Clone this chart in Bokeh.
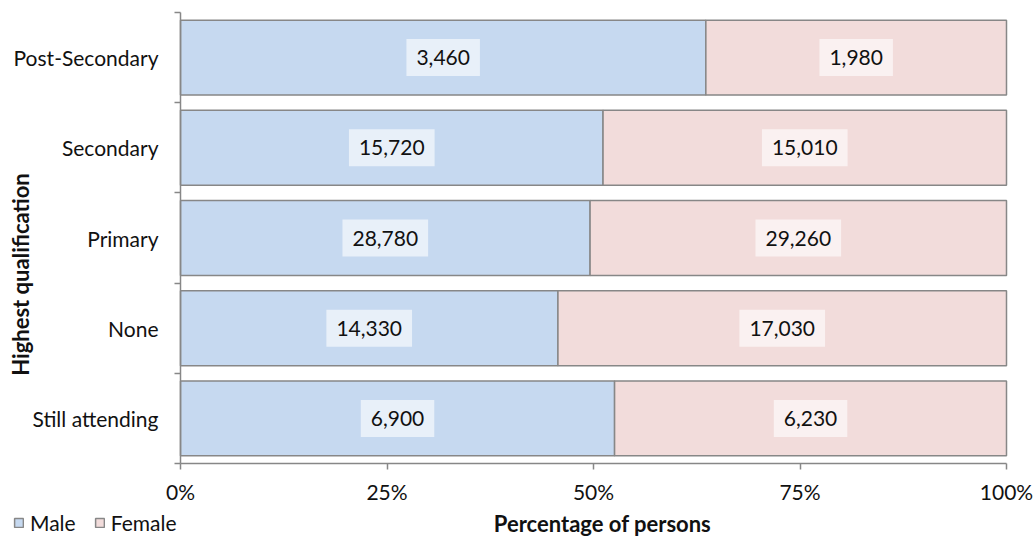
import math
from bokeh.plotting import figure
from bokeh.models import (Range1d, FixedTicker, ColumnDataSource, Label,
                          Legend, LegendItem, NumeralTickFormatter)
from bokeh.embed import file_html
from bokeh.resources import INLINE

categories = ["Still attending", "None", "Primary", "Secondary", "Post-Secondary"]
male = [6900, 14330, 28780, 15720, 3460]
female = [6230, 17030, 29260, 15010, 1980]
x_ticks = [0, 0.25, 0.5, 0.75, 1.0]

FONT = "Lato"
MALE_C = "#C6D9F0"
FEMALE_C = "#F2DCDB"
EDGE = "#878787"
TXT = "#111111"

W, H = 1036, 538
PL, PR, PT, PB = 180, 30, 12, 75          # plot-area margins inside the canvas
n = len(categories)
sx = 1.0 / (W - PL - PR)                  # data units per pixel
sy = n / (H - PT - PB)

ypos = [i + 0.5 for i in range(n)]
share_m = [m / (m + f) for m, f in zip(male, female)]
src = ColumnDataSource(dict(
    y=ypos, m=share_m, f_left=share_m, one=[1.0] * n,
))

p = figure(width=W, height=H, output_backend="svg", toolbar_location=None,
           x_range=Range1d(-PL * sx, 1 + PR * sx), y_range=Range1d(-PB * sy, n + PT * sy),
           min_border=0, min_border_left=0, min_border_right=0,
           min_border_top=0, min_border_bottom=0)
p.outline_line_color = None
p.grid.visible = False
p.background_fill_color = "white"
p.border_fill_color = "white"

rm = p.hbar(y="y", left=0, right="m", height=0.83, source=src,
            fill_color=MALE_C, line_color=EDGE, line_width=1.5)
rf = p.hbar(y="y", left="f_left", right="one", height=0.83, source=src,
            fill_color=FEMALE_C, line_color=EDGE, line_width=1.5)

for y, s, m, f in zip(ypos, share_m, male, female):
    for xc, v in ((s / 2, m), (s + (1 - s) / 2, f)):
        p.add_layout(Label(x=xc, y=y, text=f"{v:,}", text_align="center",
                           text_baseline="middle", text_font=FONT, text_font_size="21px",
                           text_color=TXT, background_fill_color="white",
                           background_fill_alpha=0.6,
                           padding=dict(left=10, right=10, top=11, bottom=11)))

# y axis, drawn at x = 0
ya = p.yaxis[0]
ya.fixed_location = 0
ya.bounds = (0, n)
ya.ticker = FixedTicker(ticks=ypos, minor_ticks=list(range(n + 1)))
ya.major_label_overrides = {y: c for y, c in zip(ypos, categories)}
ya.major_tick_out = 0
ya.major_tick_in = 0
ya.minor_tick_out = 6
ya.minor_tick_in = 0
ya.minor_tick_line_color = EDGE
ya.minor_tick_line_width = 1.5
ya.axis_line_color = EDGE
ya.axis_line_width = 1.5
ya.major_label_standoff = 16
ya.major_label_text_font = FONT
ya.major_label_text_font_size = "21px"
ya.major_label_text_color = TXT

# x axis, drawn at y = 0
xa = p.xaxis[0]
xa.fixed_location = 0
xa.bounds = (0, 1)
xa.ticker = FixedTicker(ticks=x_ticks, minor_ticks=[])
xa.formatter = NumeralTickFormatter(format="0%")
xa.major_tick_out = 6
xa.major_tick_in = 0
xa.major_tick_line_color = EDGE
xa.major_tick_line_width = 1.5
xa.axis_line_color = EDGE
xa.axis_line_width = 1.5
xa.major_label_standoff = 9
xa.major_label_text_font = FONT
xa.major_label_text_font_size = "21px"
xa.major_label_text_color = TXT

# axis titles
p.add_layout(Label(x=422 * sx, y=-60 * sy, text="Percentage of persons", text_align="center",
                   text_baseline="middle", text_font=FONT, text_font_size="22px",
                   text_font_style="bold", text_color=TXT))
p.add_layout(Label(x=-160 * sx, y=189 * sy, text="Highest qualification", text_align="center",
                   text_baseline="middle", angle=math.pi / 2, text_font=FONT,
                   text_font_size="22px", text_font_style="bold", text_color=TXT))

legend = Legend(items=[LegendItem(label="Male", renderers=[rm]),
                       LegendItem(label="Female", renderers=[rf])],
                location=(13, 3), orientation="horizontal",
                padding=0, margin=0, spacing=18, label_standoff=6,
                glyph_width=11, glyph_height=11, border_line_color=None,
                background_fill_alpha=0, label_text_font=FONT,
                label_text_font_size="21px", label_text_color=TXT)
p.add_layout(legend, "center")

open("out.html", "w").write(file_html(p, INLINE))
